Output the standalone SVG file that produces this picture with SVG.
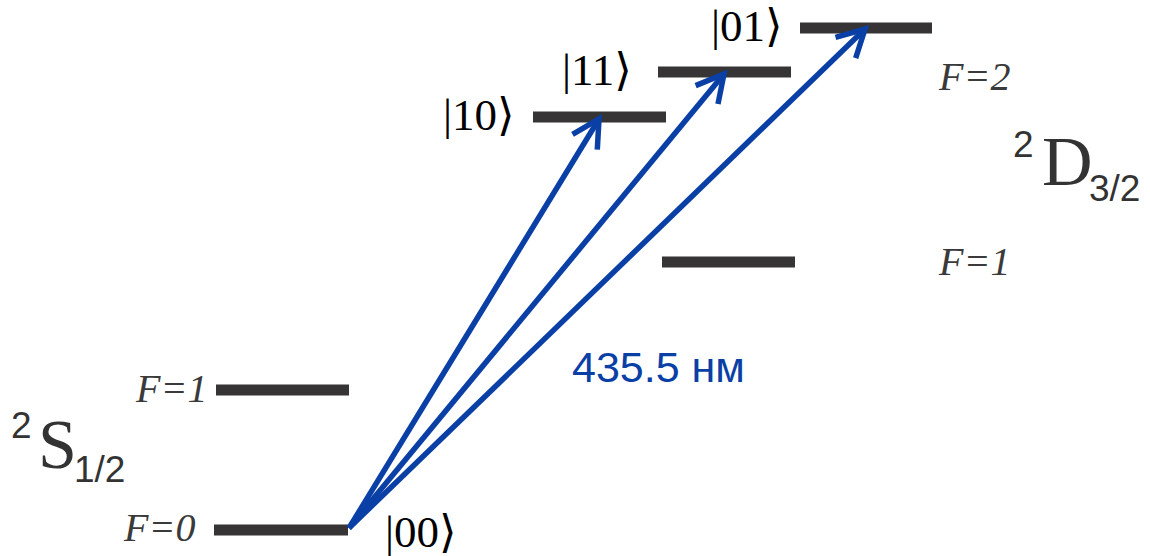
<svg xmlns="http://www.w3.org/2000/svg" width="1150" height="556" viewBox="0 0 1150 556">
<style>
.lvl{stroke:#363435;stroke-width:11;fill:none}
.arr{stroke:#0a40a6;stroke-width:5.5;fill:none}
.ket{font-family:"Liberation Serif","DejaVu Serif",serif;font-size:45px;fill:#000}
.f{font-family:"Liberation Serif","DejaVu Serif",serif;font-style:italic;font-size:40px;fill:#3a3a3a}
.term{font-family:"Liberation Serif","DejaVu Serif",serif;font-size:70px;fill:#333}
.sm{font-family:"Liberation Sans","Noto Sans",sans-serif;font-size:37px;fill:#333}
.wl{font-family:"Liberation Sans",Arial,sans-serif;font-size:43px;fill:#0a40a6}
</style>
<defs>
<marker id="ah" markerUnits="userSpaceOnUse" orient="auto" overflow="visible" refX="0" refY="0" markerWidth="10" markerHeight="10">
<path d="M-27,-14.5 L0,0 L-27,14.5" stroke="#0a40a6" stroke-width="5.5" fill="none"/>
</marker>
</defs>
<g id="S_F0"><line class="lvl" x1="214" y1="530" x2="348" y2="530"/><text class="f" x="124" y="541">F=0</text><text class="ket" x="385" y="547">|00⟩</text></g>
<g id="S_F1"><line class="lvl" x1="216" y1="390" x2="349" y2="390"/><text class="f" x="136" y="402">F=1</text></g>
<g id="S_term"><text class="sm" x="11" y="438">2</text><text class="term" x="38" y="468">S</text><text class="sm" x="74" y="482">1/2</text></g>
<g id="D_F1"><line class="lvl" x1="662" y1="262" x2="795" y2="262"/><text class="f" x="939" y="275">F=1</text></g>
<g id="ket10"><line class="lvl" x1="533" y1="117" x2="666" y2="117"/><text class="ket" x="443" y="130">|10⟩</text></g>
<g id="ket11"><line class="lvl" x1="658" y1="72" x2="791" y2="72"/><text class="ket" x="562" y="85">|11⟩</text></g>
<g id="ket01"><line class="lvl" x1="800" y1="28" x2="932" y2="28"/><text class="ket" x="711" y="41">|01⟩</text></g>
<g id="D_F2"><text class="f" x="939" y="90">F=2</text></g>
<g id="D_term"><text class="sm" x="1013" y="157">2</text><text class="term" x="1042" y="185">D</text><text class="sm" x="1089" y="201">3/2</text></g>
<g id="connectors">
<line class="arr" x1="349" y1="528" x2="599" y2="119" marker-end="url(#ah)"/>
<line class="arr" x1="349" y1="528" x2="724" y2="74" marker-end="url(#ah)"/>
<line class="arr" x1="349" y1="528" x2="865" y2="29" marker-end="url(#ah)"/>
</g>
<g id="label"><text class="wl" x="572" y="382">435.5 нм</text></g>
</svg>
